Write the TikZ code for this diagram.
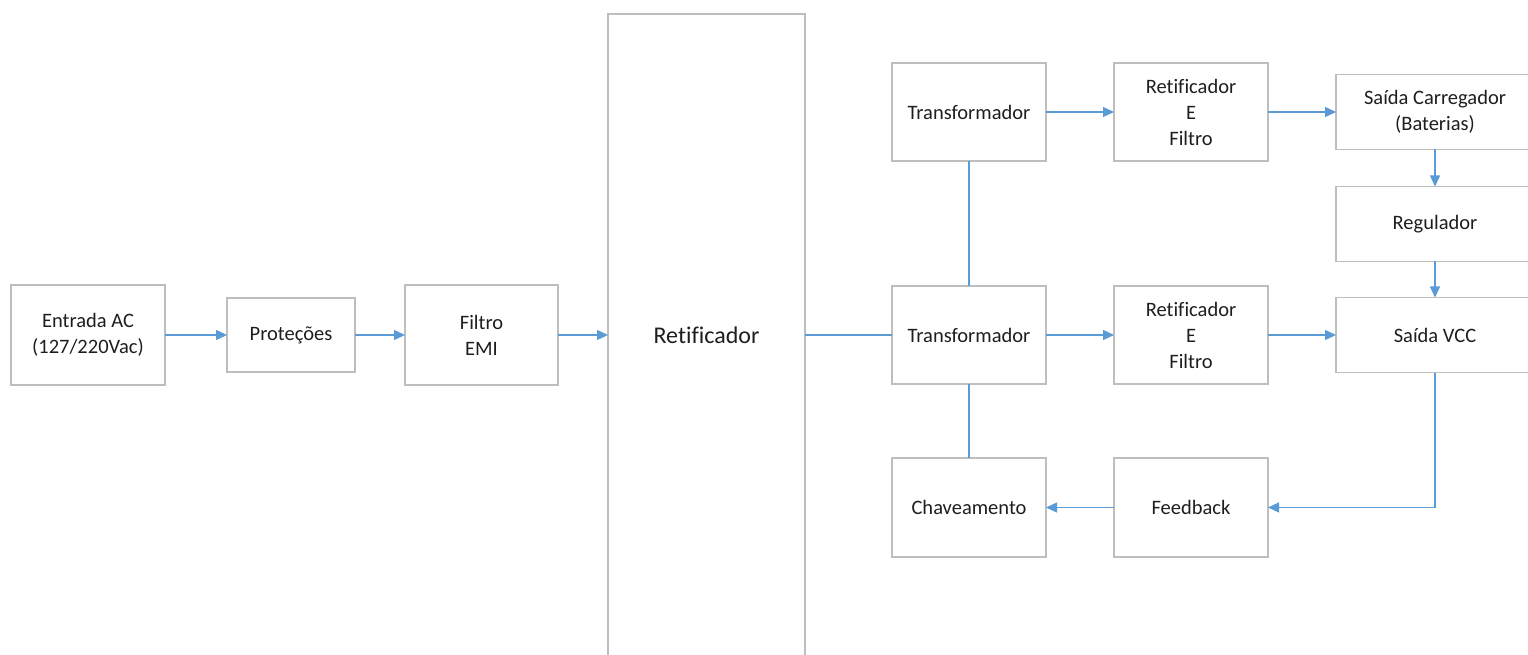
\documentclass[tikz,border=0pt]{standalone}
\usepackage{fontspec}
\setmainfont[Ligatures=NoCommon]{Carlito}
\usetikzlibrary{positioning,arrows.meta}
\definecolor{boxgray}{RGB}{190,190,190}
\definecolor{linkblue}{RGB}{91,155,213}
\definecolor{txtgray}{RGB}{30,30,30}

\begin{document}
\begin{tikzpicture}[
  x=1pt, y=1pt,
  font=\fontsize{20.5}{26}\selectfont,
  box/.style={draw=boxgray, line width=1.3pt, align=center, text=txtgray, inner sep=2pt, outer sep=0pt},
  blk/.style={box, minimum width=154pt, minimum height=98pt},
  wide/.style={box, minimum width=198pt, minimum height=75pt},
  arr/.style={-{Triangle[length=11pt,width=10pt]}, line width=1.3pt, draw=linkblue},
  link/.style={line width=1.3pt, draw=linkblue}
]
\useasboundingbox (0,0) rectangle (1528,654);

\node[blk, minimum height=100pt] (entrada) at (88,319) {Entrada AC\\(127/220Vac)};
\node[box, minimum width=128pt, minimum height=74pt, right=62pt of entrada] (protec) {Proteções};
\node[blk, minimum width=153pt, minimum height=100pt, right=50pt of protec] (filtro) {Filtro\\EMI};
\node[box, minimum width=197pt, minimum height=642pt, right=50pt of filtro,
  font=\fontsize{24}{28}\selectfont] (retif) {Retificador};

\node[blk, right=87pt of retif] (trafoB) {Transformador};
\node[blk, right=68pt of trafoB] (retfB) {Retificador\\E\\Filtro};
\node[wide, right=68pt of retfB] (vcc) {Saída VCC};

\node[blk, above=125pt of trafoB] (trafoA) {Transformador};
\node[blk, right=68pt of trafoA] (retfA) {Retificador\\E\\Filtro};
\node[wide, right=68pt of retfA] (carga) {Saída Carregador\\(Baterias)};
\node[wide, below=37pt of carga] (regul) {Regulador};

\node[blk, minimum height=99pt, below=74pt of trafoB] (chave) {Chaveamento};
\node[blk, minimum height=99pt, right=68pt of chave] (feedb) {Feedback};

\draw[arr] (entrada) -- (protec);
\draw[arr] (protec) -- (filtro);
\draw[arr] (filtro) -- (retif);
\draw[link] (retif) -- (trafoB);
\draw[link] (trafoA) -- (trafoB);
\draw[link] (trafoB) -- (chave);
\draw[arr] (trafoA) -- (retfA);
\draw[arr] (retfA) -- (carga);
\draw[arr] (carga) -- (regul);
\draw[arr] (regul) -- (vcc);
\draw[arr] (trafoB) -- (retfB);
\draw[arr] (retfB) -- (vcc);
\draw[arr] (vcc.south) |- (feedb.east);
\draw[arr] (feedb) -- (chave);
\end{tikzpicture}
\end{document}
